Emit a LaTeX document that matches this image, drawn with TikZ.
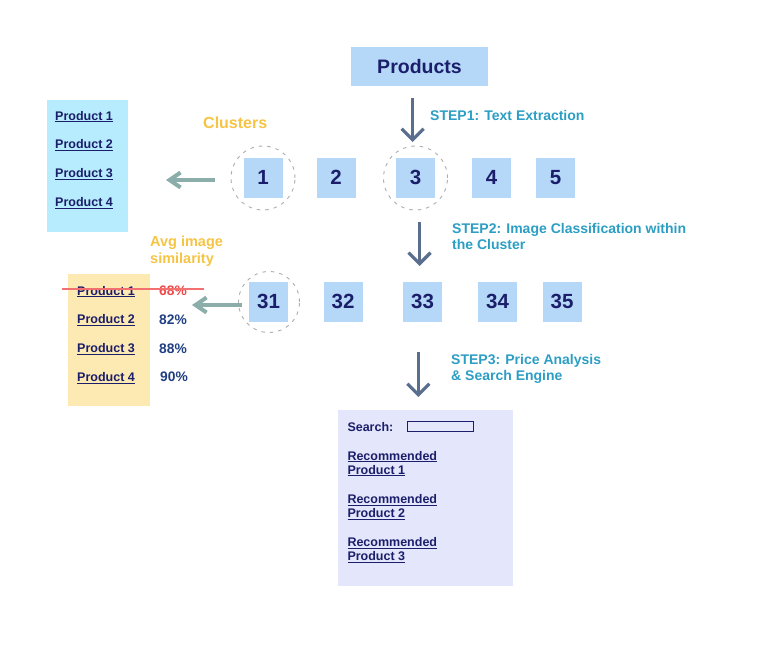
\documentclass[tikz,border=0pt]{standalone}
\usepackage{fontspec}
\setmainfont{Liberation Sans}
\usetikzlibrary{arrows.meta}
\definecolor{boxblue}{HTML}{B5D8F8}
\definecolor{navy}{HTML}{1B1E6A}
\definecolor{arrowgray}{HTML}{5A6E8E}
\definecolor{stepteal}{HTML}{2C9EC4}
\definecolor{clarrow}{HTML}{8BAEAA}
\definecolor{cyanbox}{HTML}{B6ECFD}
\definecolor{yellowbox}{HTML}{FDE9B2}
\definecolor{orangetxt}{HTML}{F6C445}
\definecolor{redtxt}{HTML}{EE4848}
\definecolor{strikered}{HTML}{F27070}
\definecolor{lavender}{HTML}{E4E6FB}
\definecolor{pctblue}{HTML}{1F3F82}
\definecolor{circgray}{HTML}{A8AEB4}
\begin{document}
\begin{tikzpicture}[x=1pt,y=-1pt,
  numbox/.style={fill=boxblue, minimum width=39pt, minimum height=40pt, inner sep=0pt,
    font=\fontsize{20.5}{20.5}\selectfont\bfseries, text=navy},
  dcirc/.style={circle, draw=circgray, line width=0.9pt, dash pattern=on 3.5pt off 5pt,
    minimum size=64pt, inner sep=0pt},
  txt/.style={anchor=base west, inner sep=0pt},
  steptxt/.style={txt, font=\fontsize{14}{14}\selectfont\bfseries, text=stepteal},
  prodtxt/.style={txt, font=\fontsize{12.5}{12.5}\selectfont\bfseries, text=navy},
  pcttxt/.style={txt, font=\fontsize{13.8}{13.8}\selectfont\bfseries, text=pctblue},
  orangelabel/.style={txt, font=\fontsize{15}{15}\selectfont\bfseries, text=orangetxt},
  downarr/.style={draw=arrowgray, line width=3.2pt,
    -{Straight Barb[length=11pt,width=22pt,line width=3.2pt]}},
  clarr/.style={draw=clarrow, line width=4pt,
    -{Straight Barb[length=11pt,width=15pt,line width=4pt]}},
  panel/.style={anchor=north west, inner sep=0pt}
]
\useasboundingbox (0,0) rectangle (760,653);

% Products
\node[fill=boxblue, minimum width=137pt, minimum height=39pt, inner sep=0pt,
  font=\fontsize{19.5}{19.5}\selectfont\bfseries, text=navy] (products) at (419.5,66.5) {Products};

% STEP1
\coordinate (a1s) at (412.7,98);
\coordinate (a1e) at (412.7,142);
\draw[downarr] (a1s) -- (a1e);
\node[steptxt] (step1) at (430,120) {STEP1: Text Extraction};

% cluster row
\node[numbox] (n1) at (263,177.5) {1};
\node[numbox] (n2) at (336,177.5) {2};
\node[numbox] (n3) at (415.5,177.5) {3};
\node[numbox] (n4) at (491.5,177.5) {4};
\node[numbox] (n5) at (555.5,177.5) {5};
\node[dcirc] (c1) at (263,178) {};
\node[dcirc] (c3) at (415.5,178) {};

\node[orangelabel, font=\fontsize{16}{16}\selectfont\bfseries] (clusters) at (203,128.3) {Clusters};

% cyan list
\node[panel, fill=cyanbox, minimum width=81pt, minimum height=132pt] (cyanlist) at (47,100) {};
\node[prodtxt] (cp1) at (55,120) {\underline{Product 1}};
\node[prodtxt] (cp2) at (55,148.7) {\underline{Product 2}};
\node[prodtxt] (cp3) at (55,177.7) {\underline{Product 3}};
\node[prodtxt] (cp4) at (55,206.7) {\underline{Product 4}};

\coordinate (ca1s) at (215,180);
\coordinate (ca1e) at (166,180);
\draw[clarr] (ca1s) -- (ca1e);

% STEP2
\coordinate (a2s) at (419.5,222);
\coordinate (a2e) at (419.5,266);
\draw[downarr] (a2s) -- (a2e);
\node[steptxt] (step2a) at (452,233.3) {STEP2: Image Classification within};
\node[steptxt] (step2b) at (452,249.3) {the Cluster};

% row 2
\node[numbox] (n31) at (268.5,301.5) {31};
\node[numbox] (n32) at (343,301.5) {32};
\node[numbox] (n33) at (422.5,301.5) {33};
\node[numbox] (n34) at (497.5,301.5) {34};
\node[numbox] (n35) at (562,301.5) {35};
\node[dcirc, minimum size=61pt] (c31) at (269,302) {};

% Avg image similarity
\node[orangelabel, font=\fontsize{14.5}{14.5}\selectfont\bfseries] (avg1) at (150,246.7) {Avg image};
\node[orangelabel, font=\fontsize{14.5}{14.5}\selectfont\bfseries] (avg2) at (150,263) {similarity};

% yellow list
\node[panel, fill=yellowbox, minimum width=82pt, minimum height=132pt] (yellowlist) at (68,274) {};
\node[prodtxt] (yp1) at (77,295) {\underline{Product 1}};
\node[prodtxt] (yp2) at (77,323.7) {\underline{Product 2}};
\node[prodtxt] (yp3) at (77,352.7) {\underline{Product 3}};
\node[prodtxt] (yp4) at (77,381.3) {\underline{Product 4}};
\node[pcttxt, text=redtxt] (pc1) at (159,295.5) {68\%};
\node[pcttxt] (pc2) at (159,324) {82\%};
\node[pcttxt] (pc3) at (159,353) {88\%};
\node[pcttxt] (pc4) at (160,381.5) {90\%};
\coordinate (strs) at (62,289);
\coordinate (stre) at (204,289);
\draw[strikered, line width=1.3pt] (strs) -- (stre);

\coordinate (ca2s) at (242,305);
\coordinate (ca2e) at (192,305);
\draw[clarr] (ca2s) -- (ca2e);

% STEP3
\coordinate (a3s) at (418.3,352);
\coordinate (a3e) at (418.3,397);
\draw[downarr] (a3s) -- (a3e);
\node[steptxt] (step3a) at (451,364.3) {STEP3: Price Analysis};
\node[steptxt] (step3b) at (451,380) {\& Search Engine};

% search panel
\node[panel, fill=lavender, minimum width=175pt, minimum height=176pt] (searchpanel) at (338,410) {};
\node[prodtxt] (searchlbl) at (347.3,431) {Search:};
\node[draw=navy, line width=0.9pt, minimum width=66pt, minimum height=10pt, inner sep=0pt] (searchfield) at (440,426) {};
\node[prodtxt] (r1a) at (347.3,460) {\underline{Recommended}};
\node[prodtxt] (r1b) at (347.3,474) {\underline{Product 1}};
\node[prodtxt] (r2a) at (347.3,503.3) {\underline{Recommended}};
\node[prodtxt] (r2b) at (347.3,517.3) {\underline{Product 2}};
\node[prodtxt] (r3a) at (347.3,546.7) {\underline{Recommended}};
\node[prodtxt] (r3b) at (347.3,560.7) {\underline{Product 3}};
\end{tikzpicture}
\end{document}
